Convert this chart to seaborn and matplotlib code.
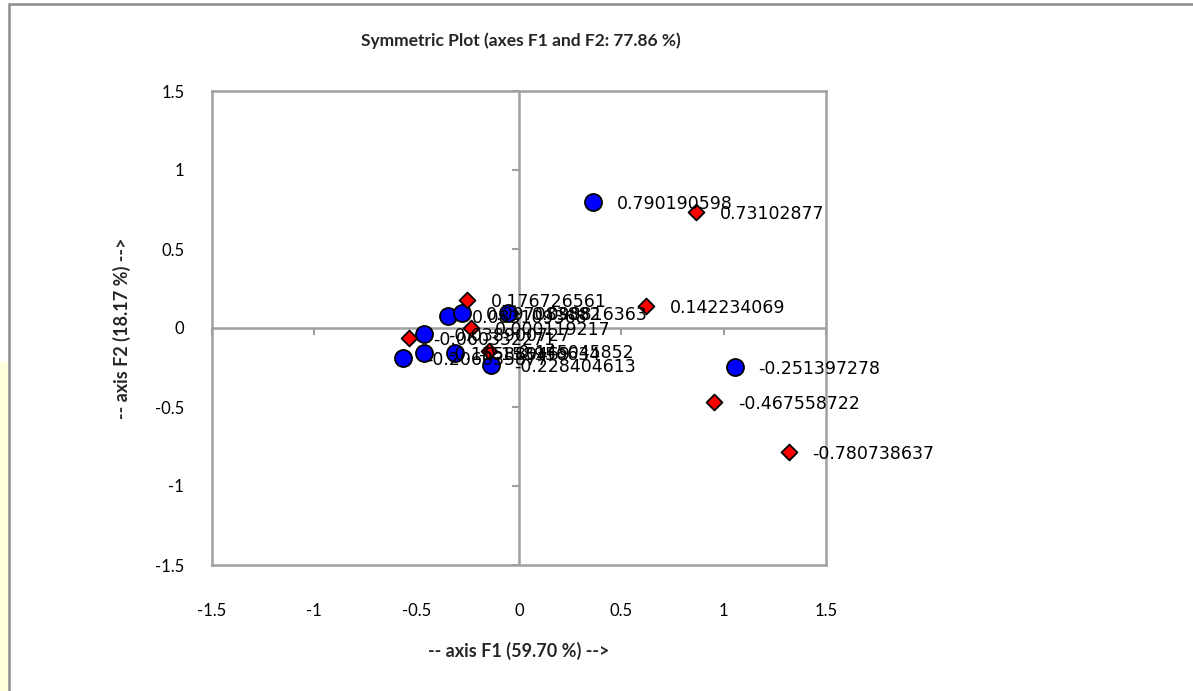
import matplotlib
matplotlib.use("Agg")
import matplotlib.pyplot as plt
import seaborn as sns
import pandas as pd
from matplotlib.patches import Rectangle

# ---- data ----
blue_x = [0.362, 1.055, -0.347, -0.279, -0.054, -0.464, -0.567, -0.464, -0.313, -0.137]
blue_y = [0.797, -0.247, 0.075, 0.095, 0.097, -0.038, -0.190, -0.158, -0.158, -0.234]
blue_labels = ["0.790190598", "-0.251397278", "0.083109368", "0.097083882", "0.098816363",
               "-0.038900727", "-0.206035877", "-0.155880469", "-0.158956634", "-0.228404613"]

red_x = [0.865, 0.620, 0.953, 1.319, -0.254, -0.235, -0.537, -0.147]
red_y = [0.734, 0.139, -0.468, -0.785, 0.177, 0.000, -0.063, -0.146]
red_labels = ["0.73102877", "0.142234069", "-0.467558722", "-0.780738637", "0.176726561",
              "0.000119217", "-0.060332271", "-0.145045852"]

ticks = [-1.5, -1, -0.5, 0, 0.5, 1, 1.5]
tick_labels = ["-1.5", "-1", "-0.5", "0", "0.5", "1", "1.5"]

title = "Symmetric Plot (axes F1 and F2: 77.86 %)"
xlabel = "-- axis F1 (59.70 %) -->"
ylabel = "-- axis F2 (18.17 %) -->"

blue_df = pd.DataFrame({"x": blue_x, "y": blue_y, "label": blue_labels})
red_df = pd.DataFrame({"x": red_x, "y": red_y, "label": red_labels})

sns.set_style("white")
plt.rcParams["font.family"] = ["Lato", "DejaVu Sans"]

W, H = 1193, 691
fig = plt.figure(figsize=(W / 100, H / 100), dpi=100)
ax = fig.add_axes([212 / W, 1 - 565 / H, (826 - 212) / W, (565 - 91) / H])

gray = "#A0A0A0"

# outer chart frame and yellow strip
fig.patches.append(Rectangle((0, 0), 8 / W, 1 - 362 / H, transform=fig.transFigure,
                             facecolor="#FFFFDC", edgecolor="none", zorder=0))
fig.patches.append(Rectangle((9 / W, -0.05), 1.2, 1 - 4 / H + 0.05, transform=fig.transFigure,
                             facecolor="none", edgecolor="#8C8C8C", linewidth=1.8, zorder=1))

ax.set_xlim(-1.5, 1.5)
ax.set_ylim(-1.5, 1.5)

# zero lines with small ticks
ax.axhline(0, color=gray, lw=1.8, zorder=1)
ax.axvline(0, color=gray, lw=1.8, zorder=1)
for t in ticks:
    ax.plot([t], [0], marker=3, ms=5, mew=1.5, color=gray, zorder=1, clip_on=False)
    ax.plot([0], [t], marker=0, ms=5, mew=1.5, color=gray, zorder=1, clip_on=False)

sns.scatterplot(data=blue_df, x="x", y="y", ax=ax, marker="o", s=150, color="#0000FF",
                edgecolor="black", linewidth=1.3, zorder=3, legend=False)
sns.scatterplot(data=red_df, x="x", y="y", ax=ax, marker="D", s=65, color="#FF0000",
                edgecolor="black", linewidth=1.3, zorder=3, legend=False)

for df in (blue_df, red_df):
    for _, r in df.iterrows():
        ax.annotate(r["label"], (r["x"], r["y"]), xytext=(17, -1.5), textcoords="offset points",
                    ha="left", va="center", fontsize=12.5, family="DejaVu Sans",
                    color="black", zorder=4)

ax.set_xticks(ticks)
ax.set_xticklabels(tick_labels)
ax.set_yticks(ticks)
ax.set_yticklabels(tick_labels)
ax.tick_params(axis="both", length=0, labelsize=12, colors="black")
ax.tick_params(axis="x", pad=27)
ax.tick_params(axis="y", pad=20)

for sp in ax.spines.values():
    sp.set_color(gray)
    sp.set_linewidth(1.8)
    sp.set_visible(True)

ax.set_xlabel(xlabel, fontsize=13, fontweight="bold", labelpad=17)
ax.set_ylabel(ylabel, fontsize=13, fontweight="bold", labelpad=17)
fig.text(521 / W, 1 - 41 / H, title, ha="center", va="center",
         fontsize=12.5, fontweight="bold")

fig.savefig("out.png", dpi=100)
